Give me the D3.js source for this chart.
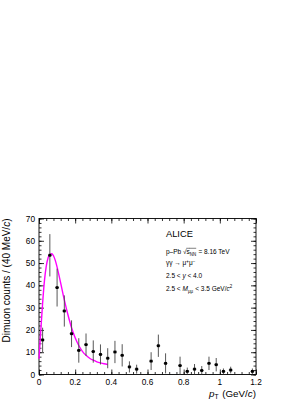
<!DOCTYPE html>
<html><head><meta charset="utf-8">
<script src="https://cdn.jsdelivr.net/npm/d3@7"></script>
<style>body{margin:0;background:#fff}svg{display:block}text{white-space:pre}</style></head>
<body><svg id="c" width="293" height="401"></svg>
<script>
// ---- data ----
const binCenters = [0.02,0.06,0.10,0.14,0.18,0.22,0.26,0.30,0.34,0.38,0.42,0.46,0.50,0.54,0.62,0.66,0.70,0.78,0.82,0.86,0.90,0.94,0.98,1.02,1.06,1.18];
const counts     = [15.5,53.5,39,28.5,18.3,10.8,13.4,10.3,9.0,7.3,10.1,8.6,3.4,2.4,6.0,12.9,5.0,4.0,1.4,2.4,1.8,5.0,4.4,1.4,2.0,1.4];
const errors     = [5.5,9.5,8.5,7.0,6.0,5.5,5.0,5.0,4.5,4.5,5.0,5.0,2.5,2.0,4.0,5.0,4.5,4.0,1.7,2.3,2.0,3.0,3.0,1.3,1.5,1.3];
const binHalfWidth = 0.01;
const fitPt  = [0.0,0.01,0.02,0.03,0.04,0.05,0.06,0.07,0.08,0.09,0.10,0.12,0.14,0.16,0.18,0.20,0.22,0.24,0.26,0.28,0.30,0.32,0.34,0.36,0.38];
const fitVal = [7,20,32,42,48.5,52.3,53.8,54.2,53.3,51.2,48.2,41,33.5,26.8,21,16.5,13,10.4,8.6,7.3,6.4,5.7,5.2,4.8,4.5];
const xTicks = [0,0.2,0.4,0.6,0.8,1,1.2];
const xTickLabels = ["0","0.2","0.4","0.6","0.8","1","1.2"];
const yTicks = [0,10,20,30,40,50,60,70];

const svg = d3.select("#c");
const FONT = "'Liberation Sans', Arial, Helvetica, sans-serif";
const L = 39, R = 256, T = 218.5, B = 374.5;
const x = d3.scaleLinear().domain([0,1.2]).range([L,R]);
const y = d3.scaleLinear().domain([0,70]).range([B,T]);

const xMinor = d3.range(0,1.2001,0.04).map(v=>+v.toFixed(3));
const yMinor = d3.range(0,70.001,2);

function styleAxis(g){ g.select(".domain").remove(); g.selectAll("line").attr("stroke","#000").attr("stroke-width",0.8); g.selectAll("text").remove(); }

// ticks on all 4 sides, inward
svg.append("g").attr("transform",`translate(0,${B})`).call(d3.axisBottom(x).tickValues(xTicks).tickSize(-5)).call(styleAxis);
svg.append("g").attr("transform",`translate(0,${B})`).call(d3.axisBottom(x).tickValues(xMinor).tickSize(-2.5)).call(styleAxis);
svg.append("g").attr("transform",`translate(0,${T})`).call(d3.axisTop(x).tickValues(xTicks).tickSize(-5)).call(styleAxis);
svg.append("g").attr("transform",`translate(0,${T})`).call(d3.axisTop(x).tickValues(xMinor).tickSize(-2.5)).call(styleAxis);
svg.append("g").attr("transform",`translate(${L},0)`).call(d3.axisLeft(y).tickValues(yTicks).tickSize(-5)).call(styleAxis);
svg.append("g").attr("transform",`translate(${L},0)`).call(d3.axisLeft(y).tickValues(yMinor).tickSize(-2.5)).call(styleAxis);
svg.append("g").attr("transform",`translate(${R},0)`).call(d3.axisRight(y).tickValues(yTicks).tickSize(-5)).call(styleAxis);
svg.append("g").attr("transform",`translate(${R},0)`).call(d3.axisRight(y).tickValues(yMinor).tickSize(-2.5)).call(styleAxis);

// frame
svg.append("rect").attr("x",L).attr("y",T).attr("width",R-L).attr("height",B-T)
  .attr("fill","none").attr("stroke","#000").attr("stroke-width",0.9);

// tick labels
svg.append("g").selectAll("text").data(xTicks).join("text")
  .attr("x",d=>x(d)).attr("y",B+10.5).attr("text-anchor","middle")
  .attr("font-family",FONT).attr("font-size",8.3).text((d,i)=>xTickLabels[i]);
svg.append("g").selectAll("text").data(yTicks).join("text")
  .attr("x",L-4).attr("y",d=>y(d)+3).attr("text-anchor","end")
  .attr("font-family",FONT).attr("font-size",8.3).text(d=>d);

// fit curve
const fitData = fitPt.map((p,i)=>[p,fitVal[i]]);
svg.append("path").datum(fitData)
  .attr("d",d3.line().x(d=>x(d[0])).y(d=>y(d[1])).curve(d3.curveMonotoneX))
  .attr("fill","none").attr("stroke","#ff00ff").attr("stroke-width",1.4);

// data points
const pts = binCenters.map((c,i)=>({c,v:counts[i],e:errors[i]}));
const gp = svg.append("g");
gp.selectAll("line.v").data(pts).join("line").attr("class","v")
  .attr("x1",d=>x(d.c)).attr("x2",d=>x(d.c))
  .attr("y1",d=>y(Math.min(70,d.v+d.e))).attr("y2",d=>y(Math.max(0,d.v-d.e)))
  .attr("stroke","#444").attr("stroke-width",0.9);
gp.selectAll("line.h").data(pts).join("line").attr("class","h")
  .attr("x1",d=>x(d.c-binHalfWidth)).attr("x2",d=>x(d.c+binHalfWidth))
  .attr("y1",d=>y(d.v)).attr("y2",d=>y(d.v))
  .attr("stroke","#000").attr("stroke-width",0.9);
gp.selectAll("rect").data(pts).join("rect")
  .attr("x",d=>x(d.c)-1.4).attr("y",d=>y(d.v)-1.4).attr("width",2.8).attr("height",2.8)
  .attr("fill","#000");

// rich text helper
function rich(xp, yp, size, pieces){
  const g = svg.append("g");
  let cx = xp;
  pieces.forEach(p=>{
    const fs = (p.sub||p.sup) ? size*0.68 : size;
    const dy = p.sub ? size*0.3 : (p.sup ? -size*0.38 : 0);
    const t = g.append("text").attr("x",cx).attr("y",yp+dy)
      .attr("font-family",FONT).attr("font-size",fs)
      .attr("font-style",p.it?"italic":"normal").text(p.t);
    const w = t.node().getComputedTextLength();
    if(p.over){ g.append("line").attr("x1",cx-0.3).attr("x2",cx+w).attr("y1",yp-size*0.82).attr("y2",yp-size*0.82).attr("stroke","#000").attr("stroke-width",0.5); }
    cx += w + (p.gap||0);
  });
  return g;
}

const TX = 166;
svg.append("text").attr("x",TX).attr("y",236.8).attr("font-family",FONT).attr("font-size",9.3).text("ALICE");
rich(TX,253.6,6.5,[{t:"p–Pb "},{t:"√"},{t:"s",over:true},{t:"NN",sub:true,over:true,gap:0.4},{t:" = 8.16 TeV"}]);
rich(TX,265.2,6.5,[{t:"γγ → μ"},{t:"+",sup:true},{t:"μ"},{t:"−",sup:true}]);
rich(TX,277.9,6.5,[{t:"2.5 < "},{t:"y",it:true},{t:" < 4.0"}]);
rich(TX,290.6,6.5,[{t:"2.5 < "},{t:"M",it:true},{t:"μμ",sub:true,gap:0.5},{t:" < 3.5 GeV/"},{t:"c",it:true},{t:"2",sup:true}]);

// x axis title (right-aligned)
const xt = rich(0,396.5,9.8,[{t:"p",it:true},{t:"T",sub:true,gap:1},{t:" (GeV/"},{t:"c",it:true},{t:")"}]);
const bb = xt.node().getBBox();
xt.attr("transform",`translate(${R-(bb.x+bb.width)},0)`);

// y axis title (rotated, right-aligned at top)
const yt = svg.append("text").attr("transform",`translate(9.8,${T}) rotate(-90)`)
  .attr("text-anchor","end").attr("font-family",FONT).attr("font-size",10);
yt.append("tspan").text("Dimuon counts / (40 MeV/");
yt.append("tspan").attr("font-style","italic").text("c");
yt.append("tspan").text(")");
</script></body></html>
